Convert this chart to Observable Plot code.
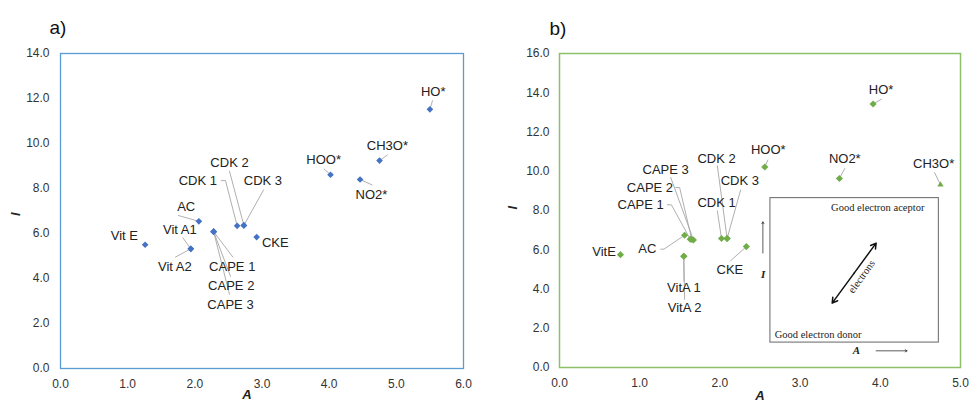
<!DOCTYPE html>
<html><head><meta charset="utf-8">
<script src="https://cdn.jsdelivr.net/npm/d3@7"></script>
<script src="https://cdn.jsdelivr.net/npm/@observablehq/plot@0.6"></script>
<style>
body{margin:0;background:#fff;font-family:"Liberation Sans",Arial,sans-serif}
#wrap{position:relative;width:969px;height:404px;overflow:hidden}
.panel{position:absolute;top:0}
</style>
</head><body>
<div id="wrap"><div id="pa" class="panel" style="left:0"></div><div id="pb" class="panel" style="left:480px"></div></div>
<script>
// ---------- Panel a) data ----------
const namesA = ["Vit E","Vit A1","Vit A2","AC","CAPE 1","CAPE 2","CAPE 3","CDK 1","CDK 2","CDK 3","CKE","HOO*","NO2*","CH3O*","HO*"];
const aA = [1.26,1.94,1.94,2.06,2.28,2.28,2.28,2.63,2.73,2.73,2.92,4.02,4.46,4.75,5.50];
const iA = [5.50,5.32,5.32,6.54,6.08,6.08,6.08,6.34,6.36,6.36,5.84,8.61,8.40,9.24,11.52];
// label anchor (data units)
const labAx = [0.951,1.777,1.702,1.871,2.557,2.542,2.531,2.045,2.516,3.014,3.198,3.918,4.629,4.867,5.549];
const labAy = [5.88,6.17,4.51,7.17,4.51,3.68,2.85,8.35,9.12,8.35,5.59,9.29,7.73,9.89,12.30];
// leader line starts (data units), ending at the point
const leadA = {
  "Vit A1": [[1.822,5.81]], "Vit A2": [[1.711,4.95]], "AC": [[1.756,6.80]],
  "CAPE 1": [[2.567,4.95]], "CAPE 2": [[2.531,4.10]], "CAPE 3": [[2.516,3.30]],
  "CDK 1": [[2.393,8.35],[2.457,8.35]], "CDK 2": [[2.516,8.77]], "CDK 3": [[3.024,7.94]],
  "HOO*": [[3.924,8.87]], "NO2*": [[4.639,8.16]], "CH3O*": [[4.867,9.49]], "HO*": [[5.538,11.90]]
};
const xTicksA = [0,1,2,3,4,5,6];
const yTicksA = [0,2,4,6,8,10,12,14];

// ---------- Panel b) data ----------
const namesB = ["VitE","VitA 1","VitA 2","AC","CAPE 1","CAPE 2","CAPE 3","CDK 1","CDK 2","CDK 3","CKE","HOO*","NO2*","CH3O*","HO*"];
const aB = [0.76,1.55,1.55,1.56,1.63,1.65,1.67,2.02,2.09,2.09,2.33,2.56,3.49,4.75,3.91];
const iB = [5.75,5.67,5.67,6.74,6.54,6.52,6.50,6.57,6.57,6.57,6.16,10.22,9.63,9.31,13.43];
const labBx = [0.555,1.552,1.560,1.096,1.012,1.128,1.324,1.959,1.959,2.249,2.125,2.603,3.557,4.665,4.010];
const labBy = [5.91,4.04,3.06,6.03,8.29,9.14,10.06,8.41,10.65,9.51,4.96,11.11,10.65,10.39,14.13];
const leadB = {
  "VitA 1": [[1.552,4.41]], "VitA 2": [[1.560,3.48]], "AC": [[1.262,6.03],[1.303,6.03]],
  "CAPE 1": [[1.345,8.29],[1.395,8.29]], "CAPE 2": [[1.448,9.17],[1.498,9.17]], "CAPE 3": [[1.387,9.68]],
  "CDK 1": [[1.968,7.98]], "CDK 2": [[1.968,10.28]], "CDK 3": [[2.258,9.04]], "CKE": [[2.133,5.44]],
  "HOO*": [[2.598,10.57]], "NO2*": [[3.557,10.14]], "CH3O*": [[4.677,9.93]], "HO*": [[4.014,13.67]]
};
const xTicksB = [0,1,2,3,4,5];
const yTicksB = [0,2,4,6,8,10,12,14,16];

// inset (data units of panel b)
const insetBox = [{x1:2.63,x2:4.73,y1:1.27,y2:8.63}];
const insetTexts = [
  {x:3.968,y:8.15,t:"Good electron aceptor"},
  {x:3.225,y:1.65,t:"Good electron donor"}
];
const insetRot = [{x:3.767,y:4.63,t:"electrons"}];
const insetAxisLabels = [{x:2.540,y:4.76,t:"I"},{x:3.702,y:0.85,t:"A"}];
const doubleArrow = [{x1:3.674,y1:4.81,x2:3.948,y2:6.34},{x1:3.674,y1:4.81,x2:3.40,y2:3.28}];
const axisArrows = [{x1:2.536,y1:5.83,x2:2.536,y2:7.42},{x1:3.948,y1:0.85,x2:4.334,y2:0.85}];

function build(names, xs, ys, lx, ly, leads){
  const pts = names.map((n,i)=>({n, x:xs[i], y:ys[i], lx:lx[i], ly:ly[i]}));
  const lines = [];
  pts.forEach(p=>{
    const L = leads[p.n];
    if(!L) return;
    L.forEach(q=>lines.push({z:p.n, x:q[0], y:q[1]}));
    lines.push({z:p.n, x:p.x, y:p.y});
  });
  return {pts, lines};
}
const fmt = d=>d.toFixed(1);
const font = '"Liberation Sans", Arial, sans-serif';
const serif = '"Liberation Serif", "Times New Roman", serif';

// ---------- Panel a ----------
{
  const {pts, lines} = build(namesA, aA, iA, labAx, labAy, leadA);
  const col = "#4472C4";
  const p = Plot.plot({
    width:480, height:404, marginLeft:60, marginRight:17, marginTop:53, marginBottom:36,
    x:{domain:[0,6]}, y:{domain:[0,14]},
    style:{fontFamily:font, fontSize:"12px", color:"#333", background:"transparent", overflow:"visible"},
    marks:[
      Plot.frame({stroke:"#5B9BD5", strokeWidth:1.3}),
      Plot.axisX({ticks:xTicksA, tickFormat:fmt, tickSize:0, tickPadding:11, label:null, fontSize:12}),
      Plot.axisY({ticks:yTicksA, tickFormat:fmt, tickSize:0, tickPadding:11, label:null, fontSize:12}),
      Plot.line(lines, {x:"x", y:"y", z:"z", stroke:"#A6A6A6", strokeWidth:0.9}),
      Plot.dot(pts, {x:"x", y:"y", symbol:"diamond2", r:3, fill:col, stroke:"none"}),
      Plot.text(pts, {x:"lx", y:"ly", text:"n", fontSize:13, fill:"#222"}),
      Plot.text(["A"], {frameAnchor:"bottom", dx:-15, dy:30, text:d=>d, fontSize:13, fontWeight:"bold", fontStyle:"italic", fill:"#222"}),
      Plot.text(["I"], {frameAnchor:"left", dx:-45, dy:5, rotate:-90, text:d=>d, fontSize:13, fontWeight:"bold", fontStyle:"italic", fill:"#222"}),
      Plot.text(["a)"], {frameAnchor:"top-left", dx:-11, dy:-33, text:d=>d, fontSize:19, fill:"#111"})
    ]
  });
  document.getElementById("pa").appendChild(p);
}

// ---------- Panel b ----------
{
  const {pts, lines} = build(namesB, aB, iB, labBx, labBy, leadB);
  const col = "#70AD47";
  const p = Plot.plot({
    width:489, height:404, marginLeft:79, marginRight:9, marginTop:53, marginBottom:37,
    x:{domain:[0,5]}, y:{domain:[0,16]},
    style:{fontFamily:font, fontSize:"12px", color:"#333", background:"transparent", overflow:"visible"},
    marks:[
      Plot.frame({stroke:"#8CC168", strokeWidth:1.5}),
      Plot.axisX({ticks:xTicksB, tickFormat:fmt, tickSize:0, tickPadding:11, label:null, fontSize:12}),
      Plot.axisY({ticks:yTicksB, tickFormat:fmt, tickSize:0, tickPadding:10, label:null, fontSize:12}),
      Plot.rect(insetBox, {x1:"x1", x2:"x2", y1:"y1", y2:"y2", fill:"white", stroke:"#666", strokeWidth:1}),
      Plot.text(insetTexts, {x:"x", y:"y", text:"t", fontFamily:serif, fontSize:10.5, fill:"#222"}),
      Plot.text(insetRot, {x:"x", y:"y", text:"t", rotate:-54, fontFamily:serif, fontSize:10.5, fill:"#222"}),
      Plot.text(insetAxisLabels, {x:"x", y:"y", text:"t", fontFamily:serif, fontSize:11, fontWeight:"bold", fontStyle:"italic", fill:"#222"}),
      Plot.arrow(doubleArrow, {x1:"x1", y1:"y1", x2:"x2", y2:"y2", stroke:"#111", strokeWidth:1.5, headLength:6}),
      Plot.arrow(axisArrows, {x1:"x1", y1:"y1", x2:"x2", y2:"y2", stroke:"#333", strokeWidth:0.8, headLength:4}),
      Plot.line(lines, {x:"x", y:"y", z:"z", stroke:"#A6A6A6", strokeWidth:0.9}),
      Plot.dot(pts.filter(d=>d.n!=="CH3O*"), {x:"x", y:"y", symbol:"diamond2", r:3.2, fill:col, stroke:"none"}),
      Plot.dot(pts.filter(d=>d.n==="CH3O*"), {x:"x", y:"y", symbol:"triangle", r:2.3, fill:col, stroke:"none"}),
      Plot.text(pts, {x:"lx", y:"ly", text:"n", fontSize:13, fill:"#222"}),
      Plot.text(["A"], {frameAnchor:"bottom", dx:0, dy:32, text:d=>d, fontSize:13, fontWeight:"bold", fontStyle:"italic", fill:"#222"}),
      Plot.text(["I"], {frameAnchor:"left", dx:-47, dy:-1, rotate:-90, text:d=>d, fontSize:13, fontWeight:"bold", fontStyle:"italic", fill:"#222"}),
      Plot.text(["b)"], {frameAnchor:"top-left", dx:-10, dy:-32, text:d=>d, fontSize:19, fill:"#111"})
    ]
  });
  document.getElementById("pb").appendChild(p);
}
</script>
</body></html>
